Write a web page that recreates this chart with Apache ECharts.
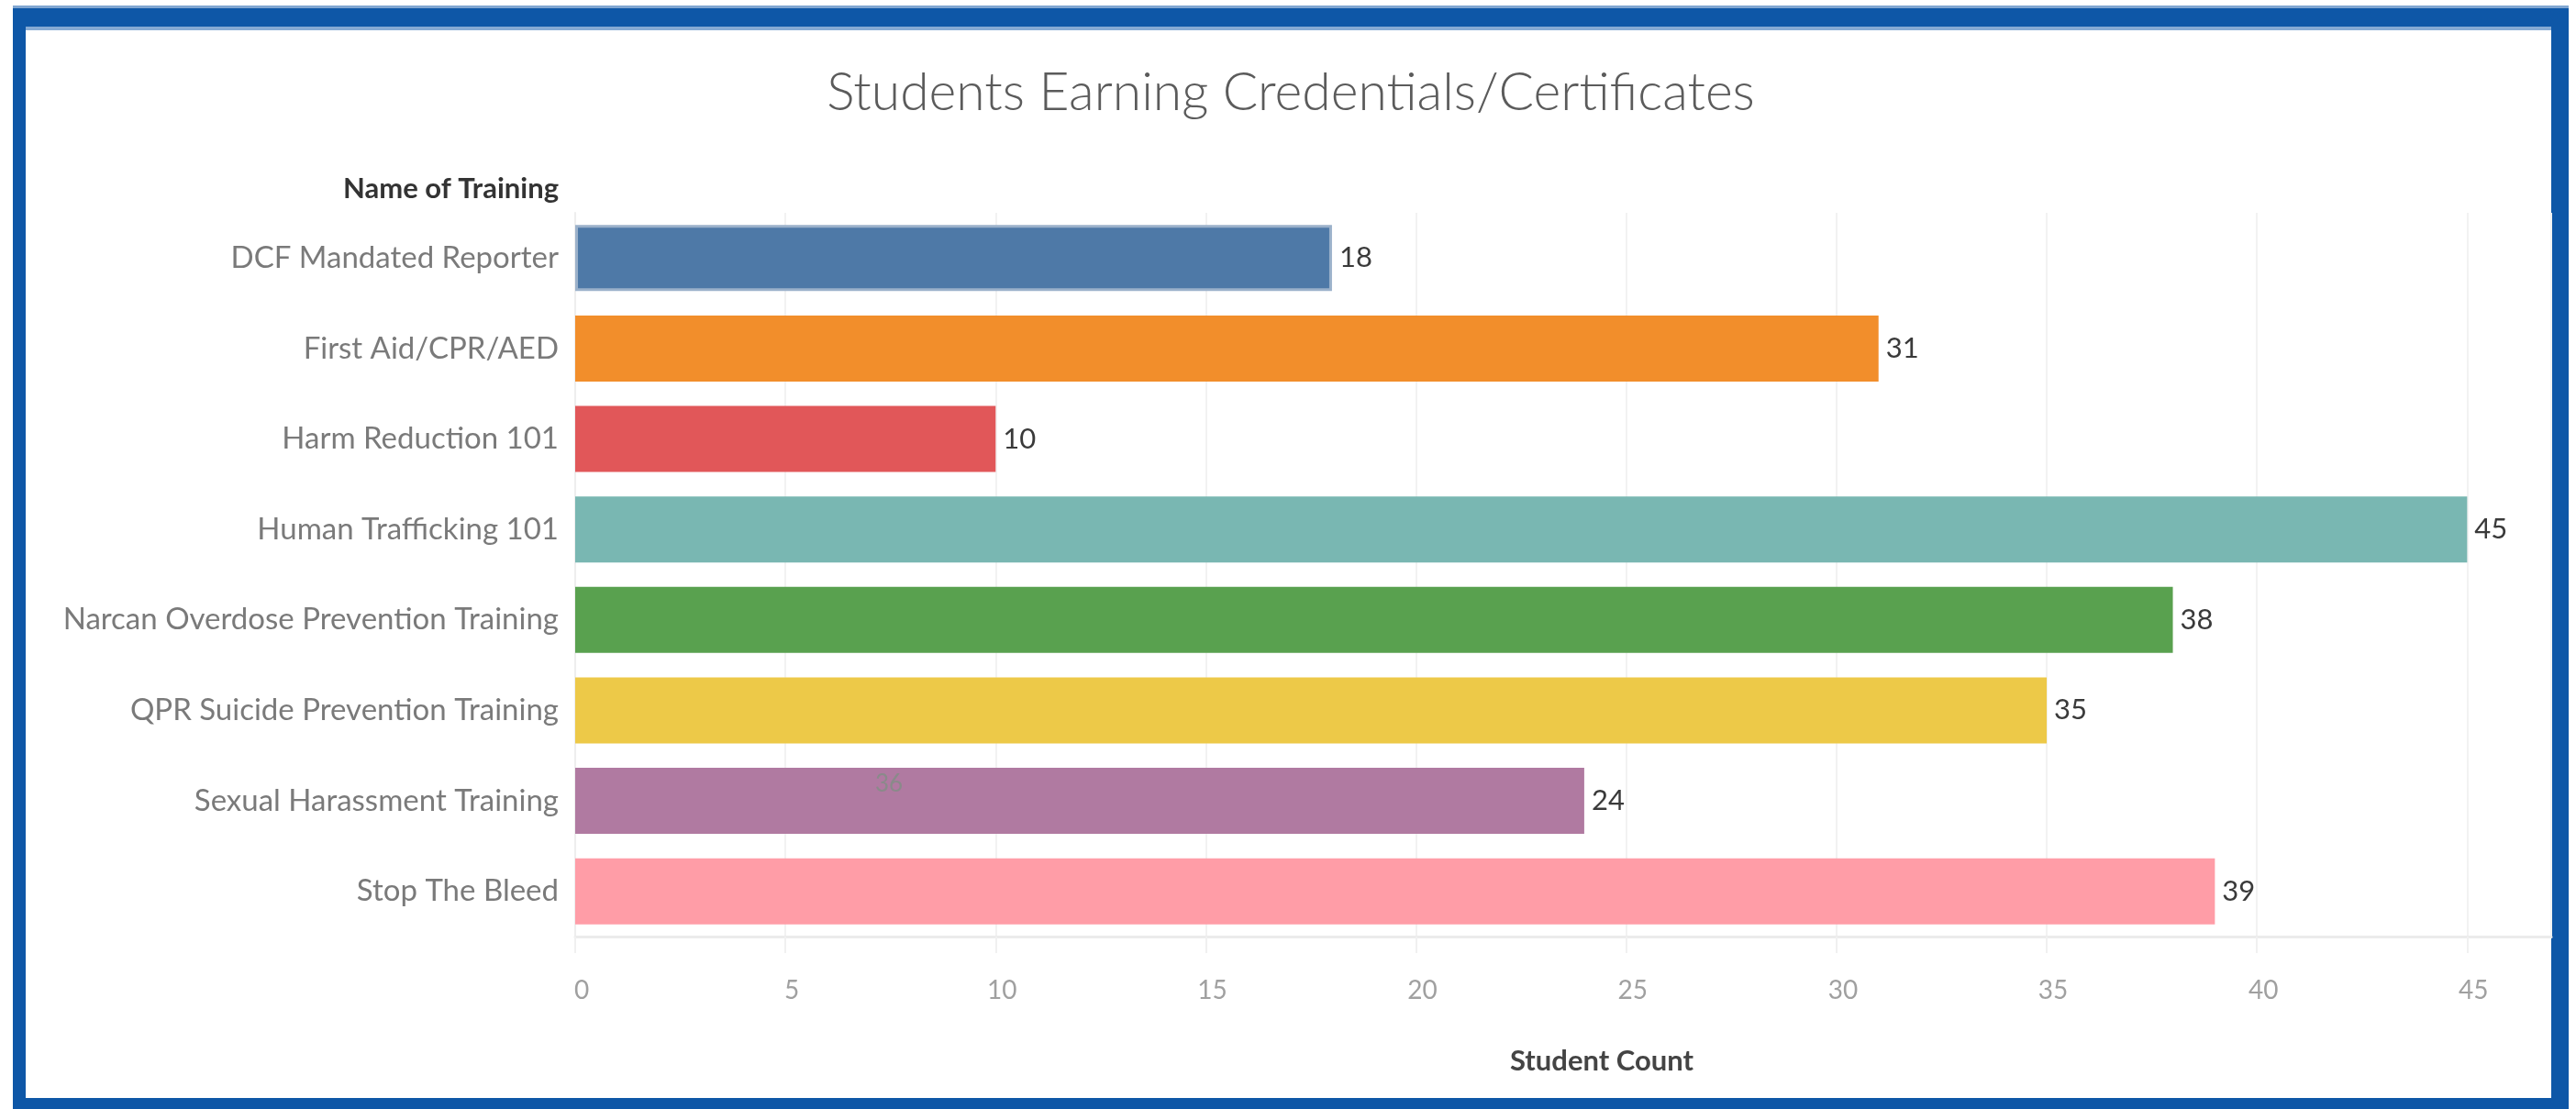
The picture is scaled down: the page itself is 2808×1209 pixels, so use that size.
<!DOCTYPE html>
<html>
<head>
<meta charset="utf-8">
<title>Students Earning Credentials/Certificates</title>
<script src="https://cdn.jsdelivr.net/npm/echarts@6/dist/echarts.min.js"></script>
<style>
  html, body { margin: 0; padding: 0; background: #fff; }
  #frame {
    position: absolute; left: 14px; top: 9px; width: 2786px; height: 1200px;
    box-sizing: border-box;
    border-style: solid; border-color: #0e57a7;
    border-width: 20px 19px 12px 14px;
    box-shadow: 0 -3px 0 #80a6d1, inset 0 4px 0 #86aad4;
  }
  #chart { position: absolute; left: 0; top: 0; width: 2808px; height: 1209px; }
</style>
</head>
<body>
<div id="frame"></div>
<div id="chart"></div>
<script>
// training names, top to bottom
const trainings = [
  'DCF Mandated Reporter',
  'First Aid/CPR/AED',
  'Harm Reduction 101',
  'Human Trafficking 101',
  'Narcan Overdose Prevention Training',
  'QPR Suicide Prevention Training',
  'Sexual Harassment Training',
  'Stop The Bleed'
];
const studentCounts = [18, 31, 10, 45, 38, 35, 24, 39];
const barColors = ['#4e79a7', '#f28e2b', '#e15759', '#79b7b2', '#59a14f', '#edc948', '#b07aa1', '#ff9da7'];
const xTicks = [0, 5, 10, 15, 20, 25, 30, 35, 40, 45];

const FONT = 'Lato, "Open Sans", sans-serif';

const chart = echarts.init(document.getElementById('chart'), null, { renderer: 'canvas' });

const option = {
  animation: false,
  title: {
    text: 'Students Earning Credentials/Certificates',
    left: 1402,
    top: 68,
    textAlign: 'center',
    textStyle: { fontFamily: FONT, fontSize: 57, fontWeight: 300, color: '#5b5b5b' }
  },
  grid: { left: 627, top: 232, width: 2154, height: 789 },
  xAxis: {
    type: 'value',
    min: 0,
    max: 47,
    interval: 5,
    name: 'Student Count',
    nameLocation: 'middle',
    nameGap: 120,
    nameTextStyle: { fontFamily: FONT, fontSize: 31, fontWeight: 'bold', color: '#444', padding: [0, 0, 0, 84] },
    axisLine: { show: true, lineStyle: { color: '#ebebeb', width: 3 } },
    axisTick: { show: true, length: 18, lineStyle: { color: '#f0f0f0', width: 2 } },
    splitLine: { show: true, lineStyle: { color: '#f2f2f2', width: 2 } },
    axisLabel: {
      margin: 45,
      showMaxLabel: false,
      padding: [0, 0, 0, 14],
      fontFamily: FONT, fontSize: 28, color: '#a0a0a0',
      formatter: v => (xTicks.indexOf(v) >= 0 ? String(v) : '')
    }
  },
  yAxis: {
    type: 'category',
    data: trainings,
    inverse: true,
    name: 'Name of Training',
    nameLocation: 'start',
    nameGap: 26,
    nameTextStyle: {
      fontFamily: FONT, fontSize: 31, fontWeight: 'bold', color: '#333',
      align: 'right', verticalAlign: 'middle', padding: [0, 18, 0, 0]
    },
    axisLine: { show: true, lineStyle: { color: '#eeeeee', width: 2 } },
    axisTick: { show: false },
    axisLabel: { margin: 18, fontFamily: FONT, fontSize: 33, color: '#7a7a7a' }
  },
  series: [
    {
      type: 'bar',
      barWidth: 72,
      data: studentCounts.map((v, i) => ({
        value: v,
        itemStyle: i === 0
          ? { color: barColors[i], borderColor: '#9bb1ca', borderWidth: 3 }
          : { color: barColors[i] }
      })),
      label: {
        show: true,
        position: 'right',
        distance: 8,
        fontFamily: FONT,
        fontSize: 31,
        color: '#3a3a3a'
      }
    }
  ],
  graphic: [
    {
      // stray value text visible inside the Sexual Harassment bar
      type: 'text',
      left: 954,
      top: 842,
      z: 100,
      style: { text: '36', fontFamily: FONT, fontSize: 26, fill: '#8a8a8a' }
    }
  ]
};

chart.setOption(option);
</script>
</body>
</html>
